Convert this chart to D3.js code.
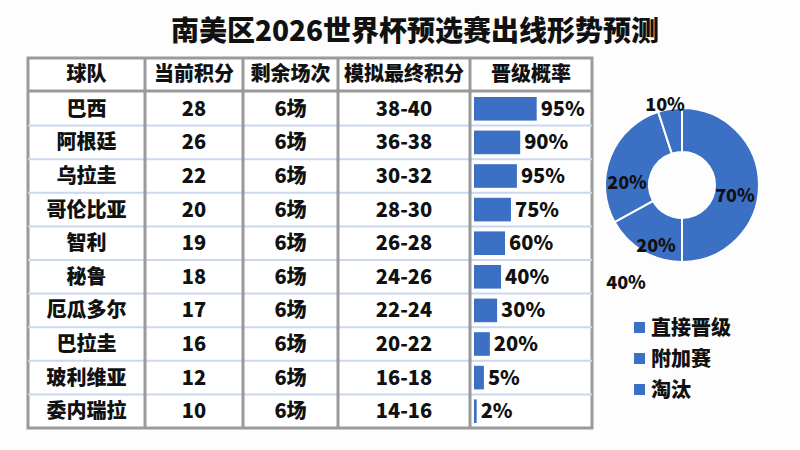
<!DOCTYPE html>
<html><head><meta charset="utf-8">
<script src="https://cdn.jsdelivr.net/npm/d3@7"></script>
<style>body{margin:0;background:#fdfdfd;font-family:"Noto Sans CJK SC",sans-serif;}</style>
</head><body><div id="chart"></div>
<script>
const teams = ["巴西","阿根廷","乌拉圭","哥伦比亚","智利","秘鲁","厄瓜多尔","巴拉圭","玻利维亚","委内瑞拉"];
const points = [28,26,22,20,19,18,17,16,12,10];
const remaining = ["6场","6场","6场","6场","6场","6场","6场","6场","6场","6场"];
const projected = ["38-40","36-38","30-32","28-30","26-28","24-26","22-24","20-22","16-18","14-16"];
const probLabels = ["95%","90%","95%","75%","60%","40%","30%","20%","5%","2%"];
// bar lengths as drawn in the picture (not proportional to the labels)
const barValues = [95,70,65,56,47,41,35,24,15,4];
const headers = ["球队","当前积分","剩余场次","模拟最终积分","晋级概率"];
const pieValues = [50,17,28,5];
const pieLabels = ["70%","20%","20%","10%"];
const legendItems = ["直接晋级","附加赛","淘汰"];

const width = 800, height = 450;
const svg = d3.select("#chart").append("svg").attr("width", width).attr("height", height);
const blue = "#3c70c4";
const fw = 900;

svg.append("text").attr("x", 415).attr("y", 41).attr("text-anchor", "middle")
  .attr("font-size", 28).attr("font-weight", fw).attr("fill", "#111")
  .text("南美区2026世界杯预选赛出线形势预测");

// table
const cols = [28,145,243,338,470,592];
const tableTop = 58, headH = 32;
const y = d3.scaleBand().domain(d3.range(teams.length)).range([tableTop + headH + 2, 428]);
const g = svg.append("g");
g.append("rect").attr("x", cols[0]).attr("y", tableTop).attr("width", cols[5]-cols[0]).attr("height", 428-tableTop)
  .attr("fill", "#fff").attr("stroke", "#9a9a9a").attr("stroke-width", 3);
g.append("line").attr("x1", cols[0]).attr("x2", cols[5]).attr("y1", tableTop+headH+1).attr("y2", tableTop+headH+1)
  .attr("stroke", "#9a9a9a").attr("stroke-width", 3);
d3.range(1, teams.length).forEach(i => g.append("line").attr("x1", cols[0]).attr("x2", cols[5])
  .attr("y1", y(i)).attr("y2", y(i)).attr("stroke", "#c9d8ee").attr("stroke-width", 2));
cols.slice(1, 5).forEach(c => g.append("line").attr("x1", c).attr("x2", c).attr("y1", tableTop).attr("y2", 428)
  .attr("stroke", "#9a9a9a").attr("stroke-width", 3));

const centers = cols.slice(0, 5).map((c, i) => (c + cols[i+1]) / 2);
headers.forEach((h, i) => g.append("text").attr("x", centers[i]).attr("y", tableTop + headH/2 + 7)
  .attr("text-anchor", "middle").attr("font-size", 20).attr("font-weight", fw).attr("fill", "#111").text(h));

const cellCols = [teams, points, remaining, projected];
teams.forEach((t, r) => {
  cellCols.forEach((arr, i) => g.append("text").attr("x", centers[i]).attr("y", y(r) + y.bandwidth()/2 + 7)
    .attr("text-anchor", "middle").attr("font-size", 20).attr("font-weight", fw).attr("fill", "#111").text(arr[r]));
});

const x = d3.scaleLinear().domain([0, 100]).range([0, 66]);
const bx = cols[4] + 4;
g.selectAll(".bar").data(barValues).join("rect").attr("class", "bar")
  .attr("x", bx).attr("y", (d, i) => y(i) + 5).attr("width", d => x(d)).attr("height", y.bandwidth() - 10)
  .attr("fill", blue);
g.selectAll(".plab").data(barValues).join("text").attr("class", "plab")
  .attr("x", d => bx + x(d) + 4).attr("y", (d, i) => y(i) + y.bandwidth()/2 + 7)
  .attr("font-size", 20).attr("font-weight", fw).attr("fill", "#111").text((d, i) => probLabels[i]);

// donut
const cx = 682, cy = 185, R = 77, r0 = 33;
const pie = d3.pie().sort(null)(pieValues);
const arc = d3.arc().innerRadius(r0).outerRadius(R);
const pg = svg.append("g").attr("transform", `translate(${cx},${cy})`);
pg.selectAll("path").data(pie).join("path").attr("d", arc).attr("fill", blue)
  .attr("stroke", "#fff").attr("stroke-width", 2);
const labelPos = [[53,10],[-26,60],[-55,-3],[-17,-81]];
pg.selectAll(".dl").data(pie).join("text").attr("class", "dl")
  .attr("x", (d, i) => labelPos[i][0]).attr("y", (d, i) => labelPos[i][1] + 7)
  .attr("text-anchor", "middle").attr("font-size", 18).attr("font-weight", fw).attr("fill", "#111")
  .text((d, i) => pieLabels[i]);
pg.append("text").attr("x", -56).attr("y", 104).attr("text-anchor", "middle").attr("font-size", 18)
  .attr("font-weight", fw).attr("fill", "#111").text("40%");

const lg = svg.append("g").attr("transform", "translate(634,316)");
legendItems.forEach((l, i) => {
  lg.append("rect").attr("x", 0).attr("y", i*31 + 6).attr("width", 11).attr("height", 11).attr("fill", blue);
  lg.append("text").attr("x", 17).attr("y", i*31 + 19).attr("font-size", 20).attr("font-weight", fw)
    .attr("fill", "#111").text(l);
});
</script></body></html>
